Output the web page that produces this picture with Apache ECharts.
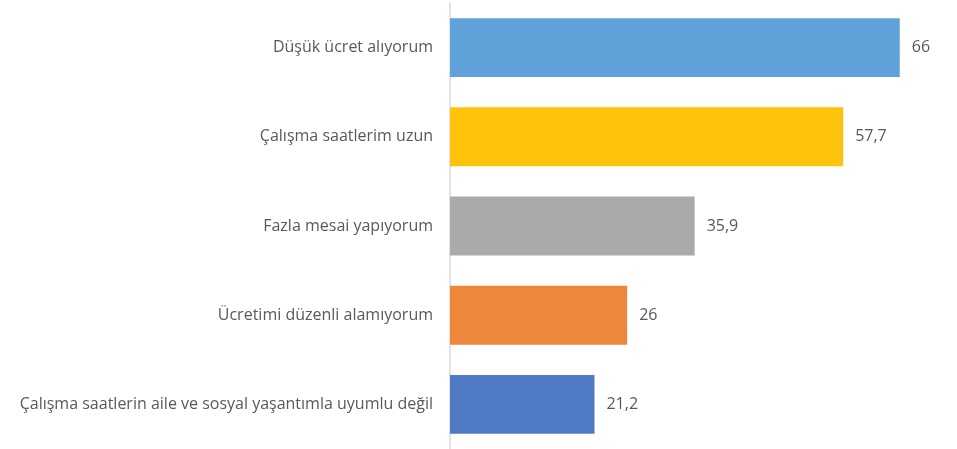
<!DOCTYPE html>
<html><head><meta charset="utf-8">
<script src="https://cdn.jsdelivr.net/npm/echarts@6/dist/echarts.min.js"></script>
<style>html,body{margin:0;padding:0;background:#fff}#c{width:957px;height:449px}</style>
</head><body><div id="c"></div>
<script>
const categories = [
  "Düşük ücret alıyorum",
  "Çalışma saatlerim uzun",
  "Fazla mesai yapıyorum",
  "Ücretimi düzenli alamıyorum",
  "Çalışma saatlerin aile ve sosyal yaşantımla uyumlu değil"
];
const values = [66, 57.7, 35.9, 26, 21.2];
const colors = ["#5FA2DA", "#FFC30D", "#A9AAA9", "#EF873A", "#4E7BC3"];

const chart = echarts.init(document.getElementById('c'));
chart.setOption({
  animation: false,
  grid: { left: 450, right: 30, top: 3, height: 454, containLabel: false },
  xAxis: { type: 'value', min: 0, max: 70, show: false },
  yAxis: {
    type: 'category', data: categories, inverse: true,
    axisLine: { show: true, lineStyle: { color: '#D9D9D9', width: 1.5 } },
    axisTick: { show: false },
    axisLabel: { color: '#595959', fontSize: 16, fontFamily: 'Open Sans', margin: 17 }
  },
  series: [{
    type: 'bar',
    data: values.map((v, i) => ({ value: v, itemStyle: { color: colors[i] } })),
    barCategoryGap: '34%',
    label: {
      show: true, position: 'right', distance: 12,
      color: '#595959', fontSize: 16, fontFamily: 'Open Sans',
      formatter: p => String(p.value).replace('.', ',')
    }
  }]
});
</script></body></html>
